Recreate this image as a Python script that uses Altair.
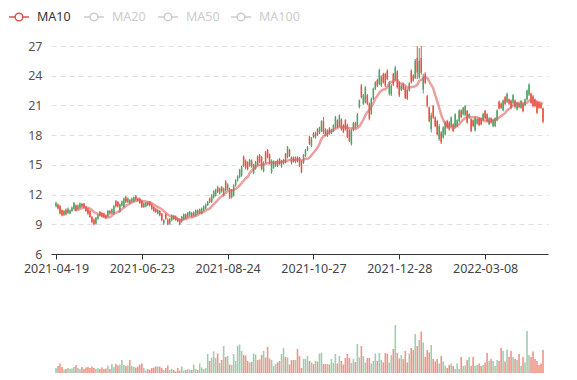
import json
import altair as alt
import pandas as pd

# ---------------- data ----------------
tick_labels = ["2021-04-19", "2021-06-23", "2021-08-24", "2021-10-27", "2021-12-28", "2022-03-08"]
tick_step = 43
series_names = ["MA10", "MA20", "MA50", "MA100"]

open_ = [
    10.82, 11.0, 10.82, 10.42, 9.91, 10.48, 10.15, 10.08, 10.35, 10.58,
    10.92, 10.55, 10.69, 11.05, 11.09, 10.75, 10.58, 10.35, 9.74, 9.47,
    9.07, 9.55, 10.25, 10.15, 10.08, 9.91, 9.81, 10.35, 10.1, 10.08,
    11.33, 11.26, 10.25, 10.9, 10.75, 11.76, 11.26, 11.43, 11.3, 11.36,
    11.83, 11.6, 11.6, 11.36, 10.75, 10.82, 11.2, 11.26, 11.02, 10.75,
    10.58, 10.1, 10.35, 10.08, 9.07, 10.01, 9.47, 9.07, 9.4, 9.85,
    9.8, 9.6, 9.5, 9.27, 9.5, 10.0, 9.77, 9.9, 10.15, 9.85,
    9.9, 10.4, 10.15, 10.1, 10.4, 10.6, 10.93, 11.6, 11.27, 11.7,
    11.9, 12.77, 12.1, 12.77, 11.93, 13.33, 12.5, 12.57, 11.7, 11.93,
    12.93, 13.43, 13.77, 13.93, 15.83, 15.43, 15.27, 14.93, 15.43, 14.17,
    14.6, 15.83, 16.0, 15.77, 14.37, 16.27, 16.5, 16.03, 14.27, 14.7,
    14.9, 15.43, 15.6, 14.83, 15.17, 16.1, 15.77, 16.5, 15.77, 15.77,
    15.27, 15.75, 15.7, 15.3, 15.2, 15.9, 16.5, 17.83, 16.9, 18.17,
    17.77, 18.57, 18.23, 18.43, 19.4, 18.57, 17.9, 18.67, 18.23, 18.43,
    18.77, 19.5, 18.9, 19.57, 19.0, 19.5, 19.0, 18.5, 17.1, 18.5,
    19.23, 18.9, 20.83, 23.0, 21.17, 21.33, 22.0, 21.17, 20.17, 21.67,
    22.67, 23.57, 23.17, 23.0, 24.17, 24.17, 24.5, 22.17, 22.1, 24.17,
    23.57, 24.43, 23.33, 22.57, 23.17, 22.83, 22.57, 22.5, 24.5, 24.0,
    23.77, 25.8, 23.83, 25.8, 22.6, 24.2, 21.93, 20.77, 18.6, 20.93,
    19.77, 19.43, 17.6, 18.27, 17.77, 18.1, 19.43, 19.27, 18.93, 19.1,
    18.83, 18.93, 19.43, 20.5, 20.1, 20.03, 20.43, 19.77, 19.6, 19.5,
    18.5, 19.17, 19.7, 19.7, 19.5, 20.43, 20.1, 19.1, 19.7, 18.93,
    18.93, 19.5, 21.37, 21.17, 20.5, 21.83, 21.37, 21.6, 21.5, 21.27,
    21.5, 20.6, 21.17, 20.77, 21.17, 21.03, 21.6, 22.1, 22.17, 21.93,
    21.6, 21.37, 21.27, 21.17, 20.7,
]
close = [
    11.16, 10.6, 10.08, 9.91, 10.35, 10.01, 10.58, 10.42, 10.7, 11.16,
    10.42, 10.9, 11.09, 10.8, 10.69, 10.35, 10.08, 9.74, 9.24, 9.0,
    9.67, 9.9, 9.91, 9.81, 9.74, 9.67, 10.35, 10.08, 10.5, 10.82,
    10.82, 10.82, 11.02, 11.3, 11.6, 11.26, 11.6, 11.16, 11.6, 11.7,
    11.5, 11.4, 11.16, 10.75, 11.1, 11.16, 10.95, 10.92, 10.58, 10.35,
    10.25, 10.45, 9.91, 9.4, 9.4, 9.57, 9.0, 9.57, 9.91, 9.55,
    9.47, 9.3, 9.03, 9.77, 10.03, 9.6, 10.17, 10.25, 9.8, 10.2,
    10.43, 10.1, 10.5, 10.6, 10.8, 11.0, 11.27, 11.27, 11.93, 12.33,
    12.5, 12.27, 12.6, 12.33, 12.6, 12.43, 13.03, 11.7, 12.43, 12.93,
    13.43, 13.83, 14.5, 14.77, 14.93, 14.7, 14.6, 15.5, 14.83, 15.03,
    15.27, 15.03, 15.27, 14.6, 15.27, 15.27, 15.77, 15.17, 15.43, 15.37,
    15.3, 14.93, 15.1, 15.43, 15.5, 15.27, 16.77, 15.93, 15.17, 15.37,
    15.77, 15.35, 14.93, 14.3, 16.0, 16.5, 16.77, 17.1, 17.67, 17.83,
    18.23, 18.0, 18.77, 19.4, 18.3, 18.0, 18.5, 18.17, 18.57, 19.0,
    19.83, 18.83, 20.0, 18.57, 18.33, 18.57, 17.83, 17.43, 18.5, 19.23,
    18.77, 20.1, 21.5, 21.83, 22.0, 22.83, 21.17, 19.67, 21.67, 22.67,
    23.33, 23.0, 24.57, 23.9, 23.33, 23.0, 23.67, 23.33, 23.0, 23.1,
    24.83, 22.83, 22.0, 23.0, 22.67, 21.77, 21.67, 23.23, 23.33, 23.5,
    25.5, 24.33, 25.5, 24.3, 23.9, 23.3, 20.93, 19.43, 20.0, 19.77,
    18.93, 18.1, 18.9, 17.3, 18.77, 19.27, 18.77, 18.6, 19.77, 18.43,
    20.1, 19.5, 20.5, 19.83, 20.77, 20.93, 19.27, 20.1, 18.43, 18.93,
    19.77, 19.6, 19.03, 19.1, 20.17, 19.7, 19.43, 19.7, 19.27, 19.5,
    19.7, 20.5, 20.7, 20.77, 21.5, 21.17, 22.17, 21.17, 20.77, 22.03,
    20.83, 21.27, 20.83, 21.43, 20.43, 21.6, 22.5, 23.1, 21.27, 20.93,
    20.93, 20.27, 20.77, 20.77, 19.37,
]
high = [
    11.3, 11.1, 10.95, 10.5, 10.45, 10.6, 10.7, 10.5, 10.8, 11.25,
    11.0, 11.0, 11.2, 11.15, 11.15, 10.85, 10.65, 10.45, 9.85, 9.6,
    9.75, 10.0, 10.35, 10.25, 10.15, 10.0, 10.45, 10.45, 10.6, 10.95,
    11.45, 11.35, 11.1, 11.4, 11.7, 11.85, 11.7, 11.55, 11.7, 11.8,
    11.95, 11.7, 11.7, 11.45, 11.2, 11.25, 11.3, 11.35, 11.1, 10.85,
    10.65, 10.55, 10.45, 10.15, 9.5, 10.1, 9.6, 9.65, 10.0, 9.95,
    9.9, 9.7, 9.6, 9.85, 10.1, 10.1, 10.25, 10.35, 10.25, 10.3,
    10.5, 10.5, 10.6, 10.7, 10.9, 11.1, 11.35, 11.7, 12.05, 12.45,
    12.6, 12.9, 12.7, 12.85, 12.7, 13.45, 13.15, 12.7, 12.55, 13.05,
    13.55, 13.95, 14.6, 14.9, 15.95, 15.55, 15.35, 15.6, 15.55, 15.1,
    15.4, 15.95, 16.1, 15.9, 15.35, 16.4, 16.6, 16.15, 15.55, 15.45,
    15.4, 15.55, 15.7, 15.5, 15.6, 16.2, 16.9, 16.6, 15.85, 15.85,
    15.85, 15.85, 15.8, 15.45, 16.1, 16.6, 16.9, 17.95, 17.8, 18.3,
    18.35, 18.7, 18.85, 19.5, 19.83, 18.7, 18.6, 18.8, 18.65, 19.1,
    19.95, 19.6, 20.1, 19.7, 19.1, 19.6, 19.15, 18.6, 18.65, 19.35,
    19.35, 20.25, 21.6, 23.15, 22.15, 22.95, 22.15, 21.3, 21.8, 22.8,
    23.45, 23.7, 24.7, 24.05, 24.3, 24.3, 24.65, 23.45, 23.15, 24.3,
    25.0, 24.55, 23.45, 23.15, 23.3, 22.95, 22.7, 23.35, 24.65, 24.15,
    25.7, 27.0, 26.8, 27.0, 24.2, 24.35, 22.05, 20.9, 20.27, 21.05,
    19.9, 19.55, 19.1, 18.4, 18.9, 19.4, 19.55, 19.4, 19.9, 19.2,
    20.2, 19.6, 20.6, 20.6, 20.85, 21.05, 20.55, 20.2, 19.7, 19.6,
    19.9, 19.7, 19.8, 19.8, 20.25, 20.55, 20.2, 19.8, 19.8, 19.6,
    19.8, 20.6, 21.5, 21.3, 21.6, 21.95, 22.3, 21.7, 21.6, 22.15,
    21.6, 21.35, 21.25, 21.55, 21.25, 21.7, 22.6, 23.25, 22.3, 22.05,
    21.7, 21.5, 21.35, 21.25, 20.8,
]
low = [
    10.7, 10.5, 10.0, 9.8, 9.85, 9.9, 10.05, 10.0, 10.25, 10.5,
    10.3, 10.45, 10.6, 10.7, 10.6, 10.25, 9.95, 9.65, 9.1, 8.9,
    8.95, 9.45, 9.8, 9.7, 9.65, 9.55, 9.7, 9.95, 10.0, 9.95,
    10.7, 10.7, 10.15, 10.8, 10.65, 11.15, 11.15, 11.05, 11.2, 11.25,
    11.4, 11.3, 11.05, 10.65, 10.65, 10.7, 10.85, 10.8, 10.45, 10.25,
    10.15, 10.0, 9.8, 9.3, 8.95, 9.45, 8.9, 8.95, 9.3, 9.45,
    9.35, 9.2, 8.9, 9.15, 9.4, 9.5, 9.65, 9.8, 9.7, 9.75,
    9.8, 10.0, 10.05, 10.0, 10.3, 10.5, 10.85, 11.15, 11.15, 11.6,
    11.8, 12.15, 12.0, 12.2, 11.8, 12.3, 12.4, 11.55, 11.6, 11.8,
    12.8, 13.3, 13.65, 13.8, 14.8, 14.55, 14.45, 14.8, 14.7, 14.05,
    14.5, 14.9, 15.15, 14.45, 14.25, 15.15, 15.65, 15.05, 14.1, 14.6,
    14.8, 14.8, 15.0, 14.7, 15.05, 15.15, 15.65, 15.8, 15.05, 15.25,
    15.15, 15.25, 14.8, 14.15, 15.1, 15.8, 16.4, 17.0, 16.8, 17.7,
    17.65, 17.9, 18.1, 18.3, 18.1, 17.9, 17.8, 18.05, 18.1, 18.3,
    18.65, 18.7, 18.8, 18.45, 18.2, 18.45, 17.7, 17.3, 16.95, 18.4,
    18.65, 18.8, 20.7, 21.7, 21.05, 21.2, 21.05, 19.5, 20.05, 21.55,
    22.55, 22.85, 23.05, 22.85, 23.2, 22.85, 23.55, 22.0, 21.95, 22.95,
    23.45, 22.7, 21.85, 22.45, 22.55, 21.65, 21.55, 22.4, 23.2, 23.4,
    23.65, 23.66, 23.7, 24.1, 22.2, 23.15, 20.8, 19.3, 18.27, 19.65,
    18.8, 17.95, 17.43, 17.1, 17.65, 17.95, 18.65, 18.45, 18.8, 18.3,
    18.7, 18.8, 19.3, 19.7, 20.0, 19.9, 19.15, 19.65, 18.3, 18.8,
    18.35, 19.05, 18.9, 19.0, 19.4, 19.6, 19.3, 19.0, 19.15, 18.8,
    18.8, 19.4, 20.6, 20.65, 20.4, 21.05, 21.25, 21.05, 20.65, 21.15,
    20.7, 20.5, 20.7, 20.65, 20.3, 20.9, 21.5, 21.95, 21.15, 20.8,
    20.8, 20.15, 20.65, 20.65, 19.2,
]
volume = [
    50, 70, 95, 60, 35, 40, 50, 40, 45, 60, 80, 50, 40,
    60, 40, 55, 60, 50, 65, 50, 40, 50, 40, 55, 40, 45, 75, 40, 90, 60,
    90, 75, 85, 130, 80, 70, 75, 130, 70, 60, 55,
    65, 85, 95, 50, 25, 40, 30, 50, 55, 65, 65, 65, 50,
    30, 50, 75, 30, 40, 30, 15, 50, 25, 65, 25, 30, 40,
    35, 30, 85, 40, 30, 95, 55, 40, 50,
    190, 120, 155, 215, 150, 195, 100, 130, 270, 160,
    170, 85, 80, 190, 120, 270, 285, 220, 180, 175, 120,
    105, 110, 195, 185, 130, 135, 180, 220, 155, 260, 145, 130,
    70, 90, 105, 120, 190, 250, 160, 155, 85, 130, 130,
    130, 240, 170, 50,
    140, 140, 170, 120, 105, 90,
    120, 115, 195, 205, 90,
    90, 90, 85, 140, 100,
    190, 95, 170, 120, 85,
    150, 190, 150, 100, 140,
    110, 290, 155, 270, 170, 105,
    150, 150, 95, 120, 195,
    120, 200, 130, 105, 200,
    190, 105, 180, 240, 480,
    200, 145, 180, 140, 220,
    105, 195, 250, 230, 390,
    270, 330, 415, 305, 160,
    230, 205, 280, 140, 115,
    140, 95, 170, 115, 73,
    50, 80, 95, 70, 40, 95,
    40, 160, 70, 75, 130,
    160, 70, 160, 70, 80,
    95, 70, 80, 105, 200,
    120, 140, 120, 70, 130,
    120, 250, 220, 115, 235,
    160, 220, 160, 140, 130,
    190, 73, 160, 105, 420, 180, 160, 215, 140, 120, 80, 95, 230,
]

# ---------------- styling / layout ----------------
RED = "#e8503f"      # falling candle
GREEN = "#4fa267"    # rising candle
VOL_RED = "#ef9585"
VOL_GREEN = "#a3cbb1"
FONT = "Noto Sans"
W, H, VH = 497, 208, 72
LEGEND_Y = -29

n = len(close)
df = pd.DataFrame({
    "i": list(range(n)),
    "open": open_, "close": close, "high": high, "low": low, "volume": volume,
})

x_scale = alt.Scale(domain=[0, n - 1], nice=False, zero=False)
label_expr = f"{json.dumps(tick_labels)}[round(datum.value / {tick_step})]"
x_axis = alt.Axis(
    values=[k * tick_step for k in range(len(tick_labels))],
    labelExpr=label_expr, grid=False, domainColor="#333", tickColor="#333",
    tickSize=5, labelColor="#444", labelFontSize=12.5, labelFont=FONT,
    labelFlush=False, labelOverlap=False, labelPadding=3, title=None,
)
y_scale = alt.Scale(domain=[6, 27], nice=False, zero=False)
y_axis = alt.Axis(
    values=list(range(6, 28, 3)), domain=False, ticks=False, grid=True,
    gridDash=[5, 4], gridColor="#e0e0e0", labelPadding=9, labelColor="#555",
    labelFontSize=12.5, labelFont=FONT, title=None,
)

candle_color = alt.condition("datum.close < datum.open", alt.value(RED), alt.value(GREEN))
vol_color = alt.condition("datum.close < datum.open", alt.value(VOL_RED), alt.value(VOL_GREEN))

base = alt.Chart(df)
X = alt.X("i:Q", scale=x_scale, axis=x_axis)

wick = base.mark_rule(strokeWidth=1).encode(
    x=X, y=alt.Y("low:Q", scale=y_scale, axis=y_axis), y2="high:Q", color=candle_color
)
body = base.mark_bar(size=1.5).encode(
    x=X, y=alt.Y("open:Q", scale=y_scale, axis=y_axis), y2="close:Q", color=candle_color
)
ma = base.transform_window(
    ma10="mean(close)", cnt="count()", frame=[-9, 0], sort=[alt.SortField("i")]
).transform_filter("datum.cnt >= 10").mark_line(
    interpolate="monotone", strokeWidth=2.5, color="#dd6060", opacity=0.6
).encode(x=X, y=alt.Y("ma10:Q", scale=y_scale, axis=y_axis))

# legend (drawn as marks, MA10 active, others greyed)
legend_layers = []
icon_cx = [-32, 43, 117, 190]
text_x = [-14, 61, 135, 208]
for k, name in enumerate(series_names):
    active = k == 0
    icol = "#d9534f" if active else "#cccccc"
    tcol = "#333333" if active else "#cccccc"
    ld = alt.Chart(pd.DataFrame({"name": [name]}))
    legend_layers.append(ld.mark_rule(strokeWidth=1.5, color=icol).encode(
        x=alt.value(icon_cx[k] - 10), x2=alt.value(icon_cx[k] + 10), y=alt.value(LEGEND_Y)))
    legend_layers.append(ld.mark_point(shape="circle", filled=True, fill="white", stroke=icol,
                                       strokeWidth=1.5, size=60, opacity=1).encode(
        x=alt.value(icon_cx[k]), y=alt.value(LEGEND_Y)))
    legend_layers.append(ld.mark_text(align="left", baseline="middle", fontSize=12.5, font=FONT,
                                      color=tcol).encode(
        x=alt.value(text_x[k]), y=alt.value(LEGEND_Y), text="name:N"))

top = alt.layer(wick, body, ma, *legend_layers).properties(width=W, height=H)

vol = base.mark_bar(size=1.6).encode(
    x=alt.X("i:Q", scale=x_scale,
            axis=alt.Axis(labels=False, ticks=False, grid=False, domainColor="#333", title=None)),
    y=alt.Y("volume:Q", scale=alt.Scale(domain=[0, 720]), axis=None),
    color=vol_color,
).properties(width=W, height=VH)

chart = alt.vconcat(top, vol, spacing=26).properties(
    padding={"left": 0, "top": 2, "right": 5, "bottom": 0}
).configure_view(stroke=None)

chart.save("out.html", embed_options={"renderer": "svg", "actions": False})
